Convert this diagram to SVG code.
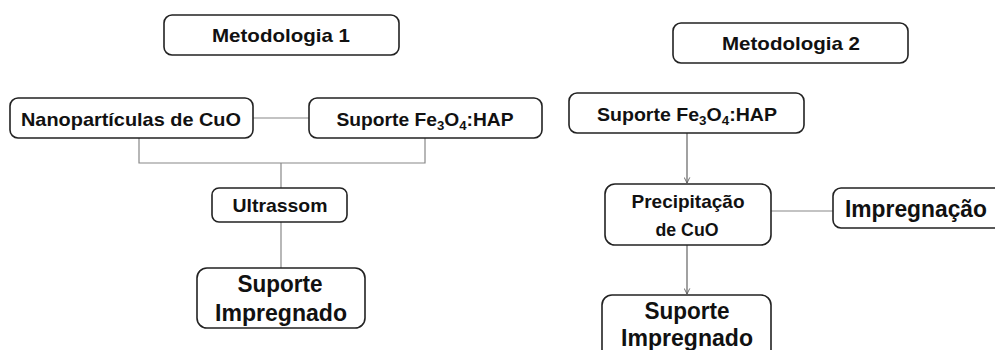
<svg xmlns="http://www.w3.org/2000/svg" width="995" height="350" viewBox="0 0 995 350">
<style>
.box{fill:#fff;stroke:#222;stroke-width:1.6}
.t{font-family:"Liberation Sans",Arial,sans-serif;font-weight:bold;fill:#111;text-anchor:middle}
.s{font-size:19px}
.m{font-size:24px}
.ln{stroke:#888;stroke-width:1.2;fill:none}
.ld{stroke:#555;stroke-width:1.1;fill:none}
</style>
<defs>
<marker id="ah" viewBox="0 0 10 10" refX="9" refY="5" markerWidth="7" markerHeight="7" orient="auto" markerUnits="userSpaceOnUse">
<path d="M1,1 L9,5 L1,9" fill="none" stroke="#555" stroke-width="1.2"/>
</marker>
</defs>
<g id="connectors">
<line class="ln" x1="253" y1="118" x2="309" y2="118"/>
<polyline class="ln" points="139,138 139,163 425,163 425,138"/>
<line class="ln" x1="281" y1="163" x2="281" y2="188"/>
<line class="ln" x1="281" y1="222" x2="281" y2="268"/>
<line class="ld" x1="687" y1="133" x2="687" y2="183" marker-end="url(#ah)"/>
<line class="ln" x1="771" y1="211" x2="833" y2="211"/>
<line class="ld" x1="687" y1="245" x2="687" y2="294" marker-end="url(#ah)"/>
</g>
<g id="metodologia1">
<rect class="box" x="164" y="15" width="235" height="40" rx="8"/>
<text class="t s" x="281" y="42" textLength="138" lengthAdjust="spacingAndGlyphs">Metodologia 1</text>
</g>
<g id="nanoparticulas">
<rect class="box" x="10" y="98" width="243" height="40" rx="8"/>
<text class="t s" x="131" y="126" textLength="220" lengthAdjust="spacingAndGlyphs">Nanopartículas de CuO</text>
</g>
<g id="suporte1">
<rect class="box" x="309" y="98" width="233" height="40" rx="8"/>
<text class="t s" x="425" y="126" textLength="177" lengthAdjust="spacingAndGlyphs">Suporte Fe<tspan font-size="13" dy="4">3</tspan><tspan dy="-4">O</tspan><tspan font-size="13" dy="4">4</tspan><tspan dy="-4">:HAP</tspan></text>
</g>
<g id="ultrassom">
<rect class="box" x="212" y="188" width="135" height="34" rx="7"/>
<text class="t s" x="280" y="212" textLength="95" lengthAdjust="spacingAndGlyphs">Ultrassom</text>
</g>
<g id="impregnado1">
<rect class="box" x="197" y="268" width="168" height="60" rx="10"/>
<text class="t m" x="280" y="292" textLength="85" lengthAdjust="spacingAndGlyphs">Suporte</text>
<text class="t m" x="281" y="321" textLength="132" lengthAdjust="spacingAndGlyphs">Impregnado</text>
</g>
<g id="metodologia2">
<rect class="box" x="673" y="23" width="235" height="40" rx="8"/>
<text class="t s" x="791" y="50" textLength="138" lengthAdjust="spacingAndGlyphs">Metodologia 2</text>
</g>
<g id="suporte2">
<rect class="box" x="569" y="93" width="235" height="40" rx="8"/>
<text class="t s" x="687" y="121" textLength="180" lengthAdjust="spacingAndGlyphs">Suporte Fe<tspan font-size="13" dy="4">3</tspan><tspan dy="-4">O</tspan><tspan font-size="13" dy="4">4</tspan><tspan dy="-4">:HAP</tspan></text>
</g>
<g id="precipitacao">
<rect class="box" x="605" y="184" width="166" height="61" rx="10"/>
<text class="t s" x="688" y="208" textLength="113" lengthAdjust="spacingAndGlyphs">Precipitação</text>
<text class="t s" x="687" y="236" textLength="63" lengthAdjust="spacingAndGlyphs">de CuO</text>
</g>
<g id="impregnacao">
<rect class="box" x="833" y="188" width="175" height="40" rx="8"/>
<text class="t m" x="916" y="217" textLength="142" lengthAdjust="spacingAndGlyphs">Impregnação</text>
</g>
<g id="impregnado2">
<rect class="box" x="602" y="295" width="169" height="70" rx="10"/>
<text class="t m" x="687" y="319" textLength="85" lengthAdjust="spacingAndGlyphs">Suporte</text>
<text class="t m" x="687" y="346" textLength="132" lengthAdjust="spacingAndGlyphs">Impregnado</text>
</g>
</svg>
